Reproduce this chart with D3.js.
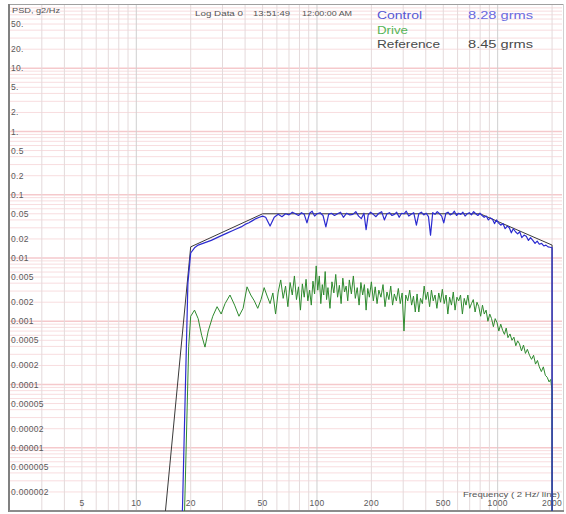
<!DOCTYPE html>
<html>
<head>
<meta charset="utf-8">
<script src="https://cdn.jsdelivr.net/npm/d3@7"></script>
<style>
    html, body { margin: 0; padding: 0; background: #fff; }
    svg { display: block; font-family: 'Liberation Sans', Arial, sans-serif; }
</style>
</head>
<body>
<div id="psd"></div>
<script>
'use strict';

// axis ticks
const yTicks      = [50, 20, 10, 5, 2, 1, 0.5, 0.2, 0.1, 0.05, 0.02, 0.01, 0.005, 0.002, 0.001,
                     0.0005, 0.0002, 0.0001, 0.00005, 0.00002, 0.00001, 0.000005, 0.000002];
const yTickLabels = ['50.', '20.', '10.', '5.', '2.', '1.', '0.5', '0.2', '0.1', '0.05', '0.02', '0.01',
                     '0.005', '0.002', '0.001', '0.0005', '0.0002', '0.0001', '0.00005', '0.00002',
                     '0.00001', '0.000005', '0.000002'];
const xTicks      = [5, 10, 20, 50, 100, 200, 500, 1000, 2000];
const xTickLabels = ['5', '10', '20', '50', '100', '200', '500', '1000', '2000'];

// legend
const legendNames = ['Control', 'Drive', 'Reference'];
const legendGrms  = ['8.28 grms', '', '8.45 grms'];

// reference profile
const referenceHz  = [14.5, 20, 50, 800, 2000, 2000];
const referencePsd = [0.000001, 0.015, 0.05, 0.05, 0.016, 0.000001];

// control spectrum
const controlHz = [18, 19.3, 20, 21, 22, 24, 26, 28, 30, 32, 34, 36, 38, 40, 42, 44, 46, 48, 50, 52,
    55, 58, 61, 64, 67, 70, 73, 76, 79, 82, 85, 88, 91, 94, 97, 100, 104, 108, 112, 116,
    120, 125, 130, 135, 140, 146, 152, 158, 164, 170, 176, 182, 187, 192, 198, 205, 212, 220, 228, 236,
    244, 252, 260, 268, 276, 285, 294, 303, 312, 322, 332, 343, 355, 366, 378, 390, 402, 414, 425, 437,
    450, 463, 477, 490, 503, 517, 531, 546, 561, 576, 592, 608, 625, 642, 660, 678, 697, 716, 736, 756,
    777, 798, 820, 842, 865, 888, 912, 936, 960, 985, 1010, 1040, 1070, 1100, 1130, 1160, 1190, 1220, 1255, 1290,
    1325, 1360, 1400, 1440, 1480, 1520, 1565, 1610, 1655, 1700, 1750, 1800, 1850, 1900, 1950, 2000, 2000];
const controlPsd = [0.000001, 0.004, 0.012, 0.0145, 0.016, 0.0175, 0.019, 0.021, 0.023, 0.025, 0.027, 0.029, 0.031, 0.034, 0.036, 0.039, 0.042, 0.044, 0.046, 0.044,
    0.032, 0.044, 0.049, 0.045, 0.050, 0.048, 0.053, 0.050, 0.047, 0.052, 0.049, 0.036, 0.051, 0.055, 0.046, 0.050, 0.052, 0.047, 0.031, 0.049,
    0.051, 0.047, 0.050, 0.053, 0.044, 0.051, 0.048, 0.049, 0.054, 0.046, 0.042, 0.051, 0.028, 0.048, 0.053, 0.049, 0.045, 0.051, 0.054, 0.040,
    0.050, 0.052, 0.047, 0.049, 0.053, 0.044, 0.051, 0.050, 0.055, 0.046, 0.049, 0.052, 0.033, 0.050, 0.053, 0.048, 0.051, 0.045, 0.023, 0.052,
    0.049, 0.054, 0.050, 0.046, 0.036, 0.051, 0.053, 0.048, 0.050, 0.055, 0.047, 0.051, 0.049, 0.053, 0.046, 0.050, 0.052, 0.048, 0.054, 0.050,
    0.047, 0.051, 0.047, 0.044, 0.046, 0.040, 0.043, 0.041, 0.035, 0.040, 0.036, 0.033, 0.035, 0.029, 0.032, 0.030, 0.025, 0.029, 0.026, 0.024,
    0.026, 0.021, 0.023, 0.022, 0.019, 0.021, 0.019, 0.017, 0.0185, 0.0165, 0.017, 0.0155, 0.016, 0.015, 0.0148, 0.0145, 0.000001];

// drive spectrum
const driveHz = [18.5, 19.5, 20, 21, 22, 23, 24, 25, 26.5, 28, 29.5, 31, 33, 35, 37, 39, 41, 43, 45, 47,
    49, 51, 53, 55, 57, 59, 61, 63, 65, 67, 69, 71, 73, 75, 77, 79, 81, 83, 85, 87,
    89, 91, 93, 95, 97, 99, 101, 103, 105, 107, 109, 111, 113, 115, 118, 121, 124, 127, 130, 133,
    136, 139, 142, 145, 148, 151, 155, 159, 163, 167, 171, 175, 179, 183, 187, 191, 195, 200, 205, 210,
    215, 220, 226, 232, 238, 244, 250, 256, 262, 268, 275, 282, 289, 296, 303, 310, 318, 326, 334, 342,
    350, 358, 366, 374, 383, 392, 401, 410, 420, 430, 440, 450, 461, 472, 483, 494, 506, 518, 530, 542,
    555, 568, 581, 595, 609, 623, 638, 653, 668, 684, 700, 716, 733, 750, 768, 786, 805, 824, 843, 863,
    883, 904, 925, 947, 969, 992, 1015, 1040, 1065, 1090, 1115, 1140, 1170, 1200, 1230, 1260, 1290, 1320, 1355, 1390,
    1425, 1460, 1500, 1540, 1580, 1620, 1660, 1700, 1745, 1790, 1835, 1880, 1925, 1965, 2000, 2000];
const drivePsd = [0.000001, 0.0004, 0.0012, 0.0015, 0.0011, 0.0006, 0.00039, 0.0007, 0.0012, 0.0017, 0.0013, 0.0019, 0.0026, 0.0018, 0.0012, 0.0016, 0.0035, 0.0026, 0.0021, 0.0016,
    0.0022, 0.0034, 0.0025, 0.0019, 0.0028, 0.0013, 0.0029, 0.0045, 0.0023, 0.0036, 0.0017, 0.0041, 0.0026, 0.0052, 0.0022, 0.0035, 0.0015, 0.0039, 0.0024, 0.0046,
    0.0021, 0.0031, 0.0018, 0.0043, 0.0027, 0.0075, 0.0031, 0.0052, 0.0019, 0.0038, 0.0026, 0.0061, 0.0022, 0.0034, 0.0016, 0.0042, 0.0028, 0.0055, 0.0024, 0.0037,
    0.0019, 0.0048, 0.0029, 0.0036, 0.0021, 0.0045, 0.0027, 0.0052, 0.0023, 0.0034, 0.0018, 0.0041, 0.0026, 0.0038, 0.0015, 0.0033, 0.0024, 0.0042, 0.0021, 0.0035,
    0.0019, 0.0031, 0.0024, 0.0038, 0.0017, 0.0029, 0.0022, 0.0036, 0.0018, 0.0027, 0.0021, 0.0033, 0.0019, 0.0028, 0.0007, 0.0026, 0.0021, 0.0031, 0.0018, 0.0025,
    0.0014, 0.0027, 0.0014, 0.0023, 0.0019, 0.0036, 0.0022, 0.0029, 0.0017, 0.0031, 0.0021, 0.0026, 0.0016, 0.0028, 0.0020, 0.0032, 0.0019, 0.0026, 0.0013, 0.0024,
    0.0018, 0.0029, 0.0015, 0.0024, 0.0021, 0.0026, 0.0013, 0.0023, 0.0018, 0.0026, 0.0016, 0.0019, 0.0022, 0.0014, 0.0020, 0.0017, 0.0012, 0.0018, 0.0013, 0.0015,
    0.0010, 0.0013, 0.0011, 0.00082, 0.0011, 0.00095, 0.0007, 0.0009, 0.00072, 0.00062, 0.00078, 0.00055, 0.00063, 0.0005, 0.00056, 0.00041, 0.00049, 0.00044, 0.00034, 0.00042,
    0.00031, 0.00036, 0.00029, 0.00025, 0.00029, 0.00021, 0.00024, 0.00019, 0.00016, 0.00019, 0.00014, 0.00013, 0.00011, 0.00012, 0.00008, 0.000001];

class PsdChart
{
    constructor (id)
    {
        this.id     = id;
        this.width  = 566;
        this.height = 514;
        this.left   = 9;
        this.right  = 562;
        this.top    = 5;
        this.bottom = 511;
    }

    appendSvg ()
    {
        return d3.select('#' + this.id)
            .append('svg')
            .attr('width', this.width)
            .attr('height', this.height);
    }

    // free text squeezed / stretched to the width seen in the screenshot
    label (g, x, y, str, size, width, color)
    {
        let t = g.append('text')
            .attr('x', x)
            .attr('y', y)
            .style('font-size', size + 'px')
            .style('fill', color)
            .text(str);
        if (width) t.attr('textLength', width).attr('lengthAdjust', 'spacingAndGlyphs');
        return t;
    }

    appendGrid (svg)
    {
        let g = svg.append('g');
        let yLines = [], xLines = [];

        for (let d = -6; d <= 1; d++)
            for (let k = 1; k <= 9; k++) yLines.push({ v: k * Math.pow(10, d), major: k === 1 });
        for (let d = 0; d <= 3; d++)
            for (let k = 1; k <= 9; k++)
            {
                let v = k * Math.pow(10, d);
                if (v > 2 && v < 2270) xLines.push({ v: v, major: k === 1 });
            }

        g.selectAll('line.h')
            .data(yLines)
            .enter()
            .append('line')
            .attr('x1', this.left)
            .attr('x2', this.right)
            .attr('y1', d => this.yScale(d.v))
            .attr('y2', d => this.yScale(d.v))
            .style('stroke', d => d.major ? '#f5c9cc' : '#f8dddf')
            .style('stroke-width', d => d.major ? 1.5 : 1);

        g.selectAll('line.v')
            .data(xLines)
            .enter()
            .append('line')
            .attr('x1', d => this.xScale(d.v))
            .attr('x2', d => this.xScale(d.v))
            .attr('y1', this.top)
            .attr('y2', this.bottom)
            .style('stroke', d => d.major ? '#cfcfcf' : '#e4dadb')
            .style('stroke-width', 1);
    }

    appendFrame (svg)
    {
        svg.append('line').attr('x1', this.left).attr('x2', this.right + 2).attr('y1', 4.5).attr('y2', 4.5)
            .style('stroke', '#a0a0a0');
        svg.append('line').attr('x1', this.right + 1.5).attr('x2', this.right + 1.5).attr('y1', 4).attr('y2', this.bottom)
            .style('stroke', '#d0d0d0');
        svg.append('line').attr('x1', this.left).attr('x2', this.left).attr('y1', 4).attr('y2', this.bottom + 1)
            .style('stroke', '#808080').style('stroke-width', 2);
        svg.append('line').attr('x1', this.left).attr('x2', this.right + 2).attr('y1', this.bottom).attr('y2', this.bottom)
            .style('stroke', '#8c8c8c').style('stroke-width', 2);
    }

    appendAxes (svg)
    {
        let g = svg.append('g').style('fill', '#5a5a5a').style('font-size', '8.5px').style('letter-spacing', '0.3px');

        g.selectAll('text.y')
            .data(yTicks)
            .enter()
            .append('text')
            .attr('x', 11)
            .attr('y', d => this.yScale(d) + 3)
            .text((d, i) => yTickLabels[i]);

        g.selectAll('text.x')
            .data(xTicks)
            .enter()
            .append('text')
            .attr('x', d => this.xScale(d))
            .attr('y', 506)
            .attr('text-anchor', 'middle')
            .text((d, i) => xTickLabels[i]);

        this.label(svg, 12, 12.5, 'PSD, g2/Hz', 8, 48, '#555');
        this.label(svg, 463, 497, 'Frequency ( 2 Hz/ line)', 8, 97, '#555');
        this.label(svg, 195, 15.5, 'Log Data 0', 8, 48, '#555');
        this.label(svg, 253, 15.5, '13:51:49', 8, 37, '#555');
        this.label(svg, 302, 15.5, '12:00:00 AM', 8, 50, '#555');
    }

    appendLegend (svg)
    {
        let colors = ['#5656d4', '#56b456', '#4a4a4a'];
        let rows   = [19, 34, 48];
        let widths = [45, 31, 63];

        legendNames.forEach((n, i) =>
        {
            this.label(svg, 377, rows[i], n, 11, widths[i], colors[i]);
            if (legendGrms[i]) this.label(svg, 468, rows[i], legendGrms[i], 11, 65, i === 0 ? '#6a6ae0' : '#4a4a4a');
        });
    }

    appendSeries (svg, hz, psd, color, width)
    {
        let line = d3.line()
            .x(d => this.xScale(d[0]))
            .y(d => this.yScale(d[1]));

        svg.append('path')
            .datum(d3.zip(hz, psd))
            .attr('d', line)
            .style('fill', 'none')
            .style('stroke', color)
            .style('stroke-width', width)
            .style('stroke-linejoin', 'round');
    }

    build ()
    {
        let svg = this.appendSvg();

        this.xScale = d3.scaleLog().domain([2, 2270]).range([10, this.right]);
        this.yScale = d3.scaleLog().domain([0.000001, 100]).range([this.bottom, this.top]);

        this.appendGrid(svg);
        this.appendFrame(svg);
        this.appendAxes(svg);
        this.appendLegend(svg);

        this.appendSeries(svg, referenceHz, referencePsd, '#3a3a3a', 1);
        this.appendSeries(svg, driveHz, drivePsd, '#2f8a2f', 1);
        this.appendSeries(svg, controlHz, controlPsd, '#2b2bd0', 1.2);
        return this;
    }
}

new PsdChart('psd').build();
</script>
</body>
</html>
